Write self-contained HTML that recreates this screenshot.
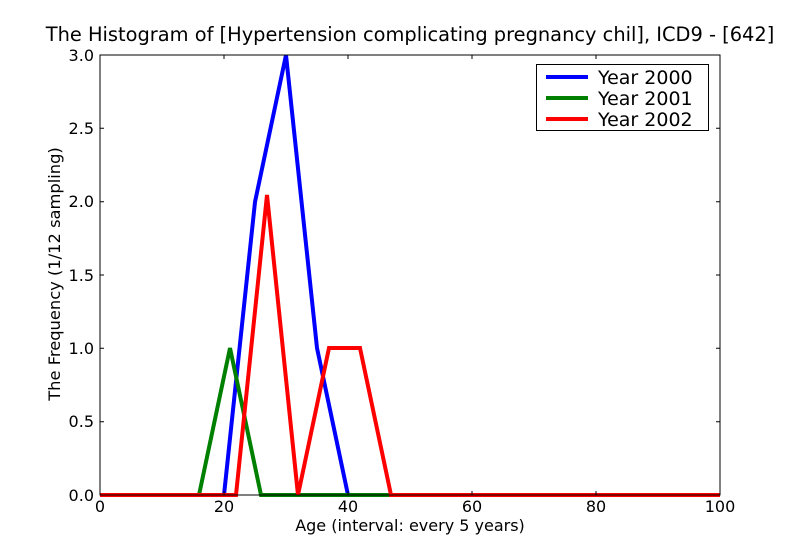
<!DOCTYPE html>
<html><head><style>body{margin:0;background:#fff}</style></head><body>
<svg width="800" height="550" xmlns="http://www.w3.org/2000/svg" font-family="DejaVu Sans, Liberation Sans, sans-serif">
<rect width="800" height="550" fill="#fff"/>
<text x="410" y="41" font-size="19.4" text-anchor="middle">The Histogram of [Hypertension complicating pregnancy chil], ICD9 - [642]</text>
<g fill="none" stroke-linejoin="miter" stroke-width="4">
<polyline stroke="#0000ff" points="100,495 224,495 255,202 286,55 317,348 348,495 720,495"/>
<polyline stroke="#008000" points="100,495 199,495 230,348 261,495 720,495"/>
<polyline stroke="#ff0000" points="100,495 236,495 267,195 298,495 329,348 360,348 391,495 720,495"/>
</g>
<rect x="100" y="55" width="620" height="440" fill="none" stroke="#000" stroke-width="1"/>
<g stroke="#000" stroke-width="1">
<path d="M100,495v-4M224,495v-4M348,495v-4M472,495v-4M596,495v-4M720,495v-4M100,55v4M224,55v4M348,55v4M472,55v4M596,55v4M720,55v4"/>
<path d="M100,495h4M100,421.7h4M100,348.3h4M100,275h4M100,201.7h4M100,128.3h4M100,55h4M720,495h-4M720,421.7h-4M720,348.3h-4M720,275h-4M720,201.7h-4M720,128.3h-4M720,55h-4"/>
</g>
<g font-size="16" text-anchor="middle">
<text x="100" y="512">0</text><text x="224" y="512">20</text><text x="348" y="512">40</text><text x="472" y="512">60</text><text x="596" y="512">80</text><text x="720" y="512">100</text>
</g>
<g font-size="16" text-anchor="end">
<text x="94" y="501">0.0</text><text x="94" y="427">0.5</text><text x="94" y="354">1.0</text><text x="94" y="281">1.5</text><text x="94" y="207">2.0</text><text x="94" y="134">2.5</text><text x="94" y="61">3.0</text>
</g>
<text x="410" y="531" font-size="16" text-anchor="middle">Age (interval: every 5 years)</text>
<text transform="translate(60,274) rotate(-90)" font-size="16.3" text-anchor="middle">The Frequency (1/12 sampling)</text>
<rect x="536.5" y="64.5" width="172" height="66" fill="#fff" stroke="#000"/>
<g stroke-width="4">
<line x1="546" y1="77" x2="588" y2="77" stroke="#0000ff"/>
<line x1="546" y1="98" x2="588" y2="98" stroke="#008000"/>
<line x1="546" y1="119" x2="588" y2="119" stroke="#ff0000"/>
</g>
<g font-size="19">
<text x="598" y="84">Year 2000</text><text x="598" y="105">Year 2001</text><text x="598" y="126">Year 2002</text>
</g>
</svg>
</body></html>
